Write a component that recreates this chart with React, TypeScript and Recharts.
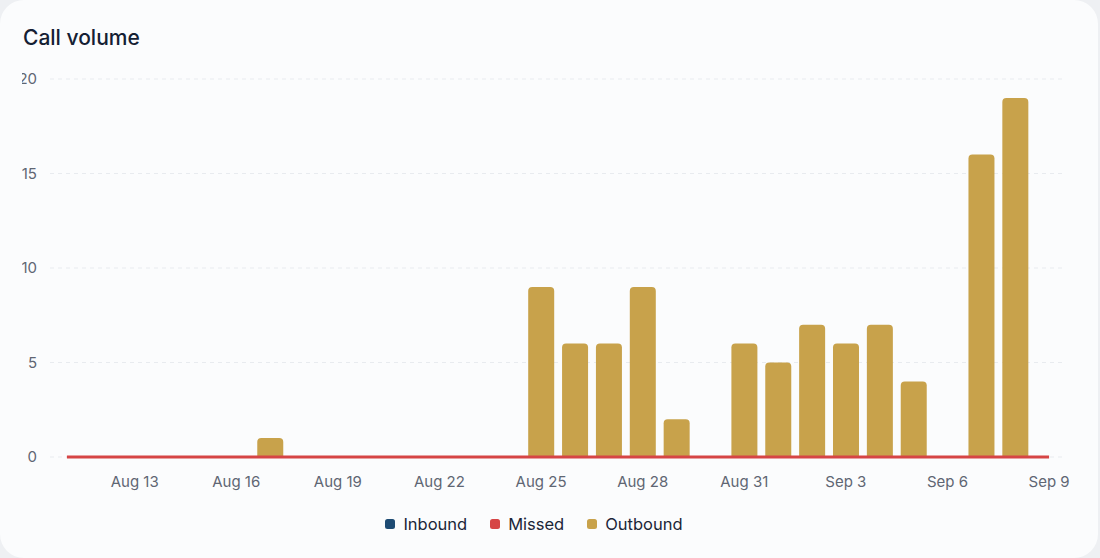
import { ComposedChart, Bar, Line, XAxis, YAxis, CartesianGrid } from 'recharts';

const days = [
  'Aug 11', 'Aug 12', 'Aug 13', 'Aug 14', 'Aug 15', 'Aug 16', 'Aug 17', 'Aug 18', 'Aug 19', 'Aug 20',
  'Aug 21', 'Aug 22', 'Aug 23', 'Aug 24', 'Aug 25', 'Aug 26', 'Aug 27', 'Aug 28', 'Aug 29', 'Aug 30',
  'Aug 31', 'Sep 1', 'Sep 2', 'Sep 3', 'Sep 4', 'Sep 5', 'Sep 6', 'Sep 7', 'Sep 8', 'Sep 9',
];
const inbound = [0, 0, 0, 0, 0, 0, 0, 0, 0, 0, 0, 0, 0, 0, 0, 0, 0, 0, 0, 0, 0, 0, 0, 0, 0, 0, 0, 0, 0, 0];
const missed = [0, 0, 0, 0, 0, 0, 0, 0, 0, 0, 0, 0, 0, 0, 0, 0, 0, 0, 0, 0, 0, 0, 0, 0, 0, 0, 0, 0, 0, 0];
const outbound = [0, 0, 0, 0, 0, 0, 1, 0, 0, 0, 0, 0, 0, 0, 9, 6, 6, 9, 2, 0, 6, 5, 7, 6, 7, 4, 0, 16, 19, 0];
const xTickLabels = ['Aug 13', 'Aug 16', 'Aug 19', 'Aug 22', 'Aug 25', 'Aug 28', 'Aug 31', 'Sep 3', 'Sep 6', 'Sep 9'];
const yTicks = [0, 5, 10, 15, 20];

const series = [
  { key: 'Inbound', color: '#1d4b73' },
  { key: 'Missed', color: '#d64545' },
  { key: 'Outbound', color: '#c8a24b' },
];

const data = days.map((day, i) => ({
  day,
  Inbound: inbound[i],
  Missed: missed[i],
  Outbound: outbound[i],
}));

const font = 'Inter, "Noto Sans", sans-serif';
const tickStyle = { fill: '#5f6673', fontSize: 15, fontFamily: font };

export default function App() {
  return (
    <div
      style={{
        position: 'fixed',
        inset: 0,
        background: '#eef0f3',
        fontFamily: font,
      }}
    >
      <div
        style={{
          position: 'absolute',
          left: 0,
          top: 0,
          width: 1098,
          height: 558,
          borderRadius: 24,
          background: '#fbfcfd',
        }}
      >
        <div
          style={{
            position: 'absolute',
            left: 23,
            top: 25,
            fontSize: 21,
            fontWeight: 500,
            color: '#142033',
          }}
        >
          Call volume
        </div>

        <div style={{ position: 'absolute', left: 22, top: 60, overflow: 'hidden' }}>
          <ComposedChart
            width={1054}
            height={440}
            data={data}
            margin={{ top: 19, right: 10, left: 0, bottom: 13 }}
            barCategoryGap="12%"
          >
            <CartesianGrid vertical={false} stroke="#e8ebef" strokeDasharray="4 4" />
            <XAxis
              dataKey="day"
              interval={0}
              axisLine={false}
              tickLine={false}
              tickMargin={13}
              height={30}
              tick={tickStyle}
              tickFormatter={(v: string) => (xTickLabels.includes(v) ? v : '')}
            />
            <YAxis
              width={28}
              domain={[0, 20]}
              ticks={yTicks}
              axisLine={false}
              tickLine={false}
              tickSize={6}
              tickMargin={7}
              tick={tickStyle}
            />
            <Bar dataKey="Inbound" stackId="calls" fill="#1d4b73" radius={[4, 4, 0, 0]} isAnimationActive={false} />
            <Bar dataKey="Outbound" stackId="calls" fill="#c8a24b" radius={[4, 4, 0, 0]} isAnimationActive={false} />
            <Line
              dataKey="Missed"
              type="linear"
              stroke="#d64545"
              strokeWidth={3}
              dot={false}
              activeDot={false}
              isAnimationActive={false}
            />
          </ComposedChart>
        </div>

        <div
          style={{
            position: 'absolute',
            left: 0,
            width: 1068,
            top: 514,
            display: 'flex',
            justifyContent: 'center',
            gap: 23,
            fontSize: 16.5,
            color: '#1b2638',
          }}
        >
          {series.map((s) => (
            <div key={s.key} style={{ display: 'flex', alignItems: 'center', gap: 8 }}>
              <span
                style={{
                  width: 10,
                  height: 10,
                  borderRadius: 2.5,
                  background: s.color,
                  display: 'inline-block',
                }}
              />
              <span>{s.key}</span>
            </div>
          ))}
        </div>
      </div>
    </div>
  );
}
